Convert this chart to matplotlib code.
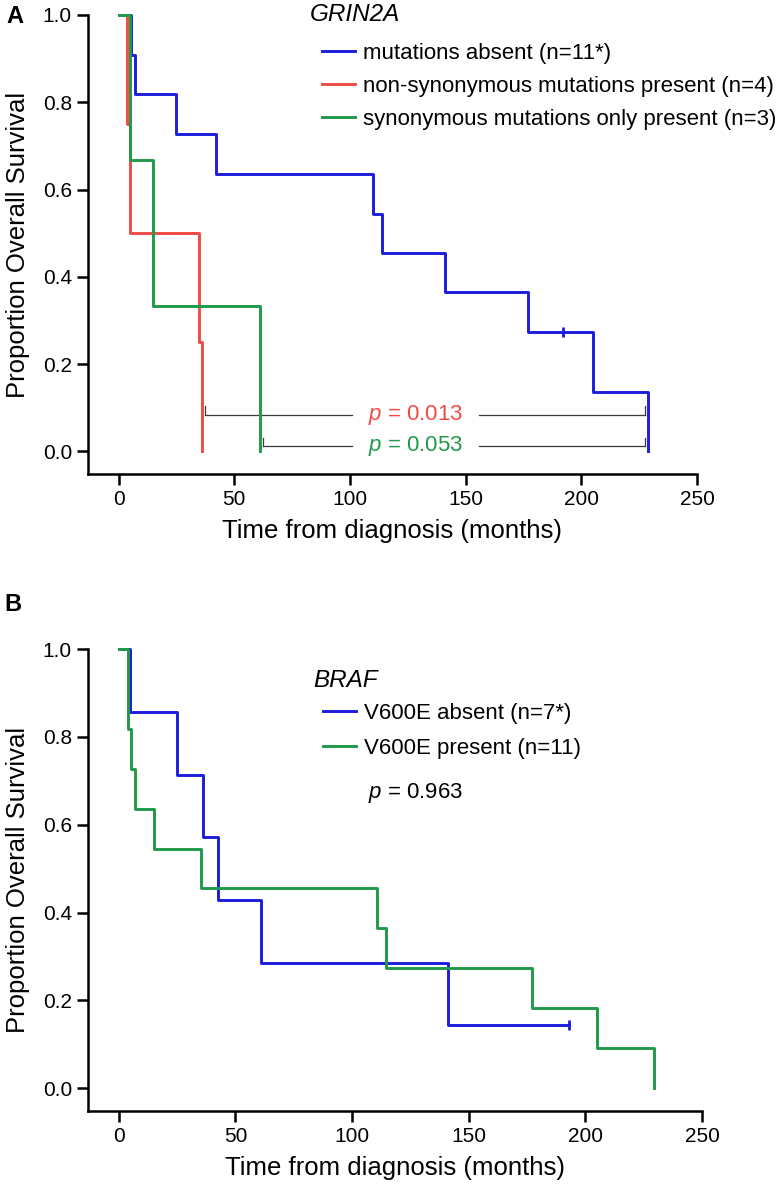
import matplotlib
matplotlib.use("Agg")
import matplotlib.pyplot as plt

plt.rcParams['font.family'] = ['Liberation Sans', 'DejaVu Sans']
plt.rcParams['mathtext.fontset'] = 'custom'
plt.rcParams['mathtext.it'] = 'Liberation Sans:italic'
plt.rcParams['mathtext.rm'] = 'Liberation Sans'

BLUE = '#1c1cdc'
RED = '#f04b46'
GREEN = '#21994a'

# Panel A - GRIN2A (tempi in mesi, sopravvivenza dopo ogni evento)
a_absent_t = [0, 5.5, 7.2, 25, 42, 110, 114, 141, 177, 205, 229]
a_absent_s = [1.0, 0.909, 0.818, 0.727, 0.636, 0.545, 0.455, 0.364, 0.273, 0.136, 0.0]
a_absent_cens_t = [192]
a_absent_cens_s = [0.273]
a_nonsyn_t = [0, 3.6, 5, 35, 36]
a_nonsyn_s = [1.0, 0.75, 0.5, 0.25, 0.0]
a_syn_t = [0, 5, 15, 61.3]
a_syn_s = [1.0, 0.667, 0.333, 0.0]
a_labels = ['mutations absent (n=11*)',
            'non-synonymous mutations present (n=4)',
            'synonymous mutations only present (n=3)']
a_pvals = ['0.013', '0.053']

# Panel B - BRAF
b_absent_t = [0, 4.9, 25, 36, 42.5, 61, 141, 193]
b_absent_s = [1.0, 0.857, 0.714, 0.571, 0.429, 0.286, 0.143, 0.143]
b_absent_cens_t = [193]
b_absent_cens_s = [0.143]
b_present_t = [0, 3.9, 5.3, 7, 15, 35.2, 110.5, 114.5, 177, 205, 229.6]
b_present_s = [1.0, 0.818, 0.727, 0.636, 0.545, 0.455, 0.364, 0.273, 0.182, 0.091, 0.0]
b_labels = ['V600E absent (n=7*)', 'V600E present (n=11)']
b_pval = '0.963'

xticks = [0, 50, 100, 150, 200, 250]
yticks = [0.0, 0.2, 0.4, 0.6, 0.8, 1.0]


def stile_assi(ax):
    ax.set_xlim(-13.2, 250)
    ax.set_ylim(-0.052, 1.0)
    ax.set_xticks(xticks)
    ax.set_yticks(yticks)
    ax.set_yticklabels(['%.1f' % v for v in yticks])
    for s in ['top', 'right']:
        ax.spines[s].set_visible(False)
    for s in ['left', 'bottom']:
        ax.spines[s].set_linewidth(1.8)
    ax.tick_params(width=1.8, length=8, labelsize=15, pad=3.5)
    ax.set_xlabel('Time from diagnosis (months)', fontsize=18.5, labelpad=7)
    ax.set_ylabel('Proportion Overall Survival', fontsize=18.5, labelpad=9)


def curva(ax, t, s, color, label):
    line, = ax.step(t, s, where='post', color=color, lw=2.1, label=label,
                    clip_on=False, zorder=3)
    return line


fig = plt.figure(figsize=(7.84, 11.98), dpi=100)

# ---------- Panel A ----------
axA = fig.add_axes([0.1122, 0.60434, 0.7768, 0.38314])
l1 = curva(axA, a_absent_t, a_absent_s, BLUE, a_labels[0])
l2 = curva(axA, a_nonsyn_t, a_nonsyn_s, RED, a_labels[1])
l3 = curva(axA, a_syn_t, a_syn_s, GREEN, a_labels[2])
axA.plot(a_absent_cens_t, a_absent_cens_s, '|', color=BLUE, ms=7, mew=2, zorder=4)
stile_assi(axA)

# linee dei confronti con i p-value
p_levels = [0.084, 0.0115]
p_colors = [RED, GREEN]
starts = [a_nonsyn_t[-1], a_syn_t[-1]]
end = a_absent_t[-1] - 1.5
p_center = 128.3
half_gap = 27.5
for y, c, x0, p in zip(p_levels, p_colors, starts, a_pvals):
    x0 = x0 + 1.2
    axA.plot([x0, p_center - half_gap], [y, y], color='#3a3a3a', lw=0.9)
    axA.plot([p_center + half_gap, end], [y, y], color='#3a3a3a', lw=0.9)
    axA.plot([x0, x0], [y, y + 0.02], color='#3a3a3a', lw=0.9)
    axA.plot([end, end], [y, y + 0.02], color='#3a3a3a', lw=0.9)
    axA.text(p_center, y, r'$p$ = ' + p, color=c, fontsize=16,
             ha='center', va='center')

axA.text(0.3645, 1.0, 'GRIN2A', transform=axA.transAxes, fontsize=17.5,
         style='italic', ha='left', va='center')
axA.legend(handles=[l1, l2, l3], loc='upper left', bbox_to_anchor=(0.3837, 0.9386),
           frameon=False, fontsize=16, borderpad=0, borderaxespad=0,
           handlelength=1.5, handletextpad=0.36, labelspacing=0.54)
fig.text(0.019, 0.9866, 'A', fontsize=17, fontweight='bold', ha='center', va='center')

# ---------- Panel B ----------
axB = fig.add_axes([0.1122, 0.07262, 0.7832, 0.38564])
m1 = curva(axB, b_absent_t, b_absent_s, BLUE, b_labels[0])
m2 = curva(axB, b_present_t, b_present_s, GREEN, b_labels[1])
axB.plot(b_absent_cens_t, b_absent_cens_s, '|', color=BLUE, ms=7, mew=2, zorder=4)
stile_assi(axB)

axB.text(0.3664, 0.9314, 'BRAF', transform=axB.transAxes, fontsize=17.5,
         style='italic', ha='left', va='center')
axB.legend(handles=[m1, m2], loc='upper left', bbox_to_anchor=(0.3827, 0.8827),
           frameon=False, fontsize=16, borderpad=0, borderaxespad=0,
           handlelength=1.5, handletextpad=0.36, labelspacing=0.6)
axB.text(0.456, 0.6883, r'$p$ = ' + b_pval, transform=axB.transAxes, fontsize=16,
         ha='left', va='center')
fig.text(0.017, 0.495, 'B', fontsize=17, fontweight='bold', ha='center', va='center')

fig.savefig('out.png', dpi=100)
